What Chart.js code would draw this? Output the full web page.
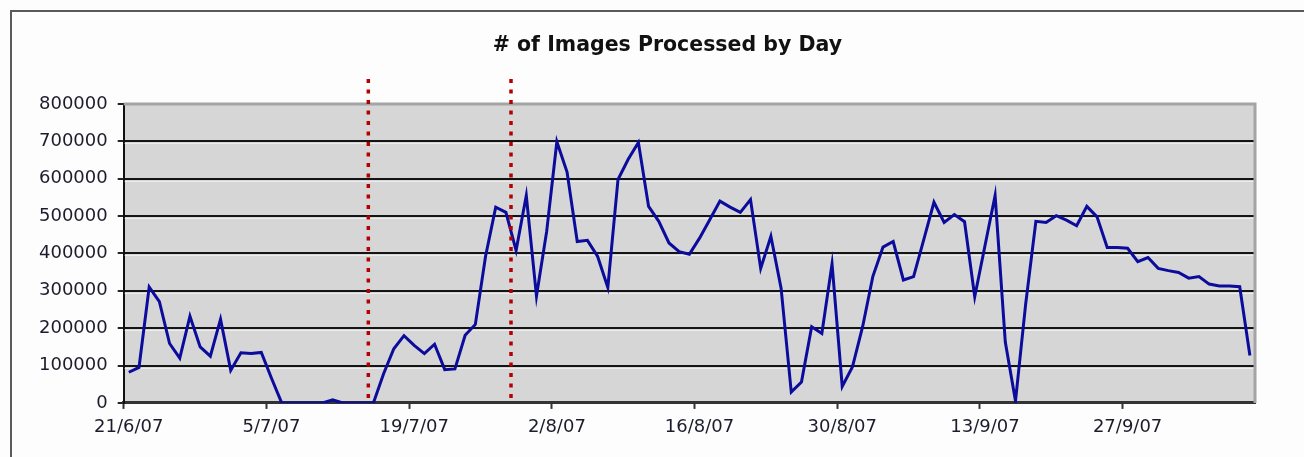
<!DOCTYPE html>
<html>
<head>
<meta charset="utf-8">
<script src="https://cdn.jsdelivr.net/npm/chart.js@4.4.1/dist/chart.umd.min.js"></script>
<style>
    html, body{
        margin:0;
        padding:0;
        background:#fdfdfd;
    }
    #wrap{
        position:relative;
        width:1304px;
        height:457px;
        overflow:hidden;
    }
    #frame{
        position:absolute;
        left:10px;
        top:10px;
        width:1400px;
        height:600px;
        border-left:2px solid #5a5a5a;
        border-top:2px solid #5a5a5a;
        pointer-events:none;
    }
</style>
</head>
<body>

<div id="wrap">
    <canvas id="imagesChart"></canvas>
    <div id="frame"></div>
</div>

<script>

// DAYS (ONE POINT PER DAY)
const dayLabels = [
    "21/6/07","22/6/07","23/6/07","24/6/07","25/6/07","26/6/07","27/6/07","28/6/07","29/6/07","30/6/07",
    "1/7/07","2/7/07","3/7/07","4/7/07","5/7/07","6/7/07","7/7/07","8/7/07","9/7/07","10/7/07",
    "11/7/07","12/7/07","13/7/07","14/7/07","15/7/07","16/7/07","17/7/07","18/7/07","19/7/07","20/7/07",
    "21/7/07","22/7/07","23/7/07","24/7/07","25/7/07","26/7/07","27/7/07","28/7/07","29/7/07","30/7/07",
    "31/7/07","1/8/07","2/8/07","3/8/07","4/8/07","5/8/07","6/8/07","7/8/07","8/8/07","9/8/07",
    "10/8/07","11/8/07","12/8/07","13/8/07","14/8/07","15/8/07","16/8/07","17/8/07","18/8/07","19/8/07",
    "20/8/07","21/8/07","22/8/07","23/8/07","24/8/07","25/8/07","26/8/07","27/8/07","28/8/07","29/8/07",
    "30/8/07","31/8/07","1/9/07","2/9/07","3/9/07","4/9/07","5/9/07","6/9/07","7/9/07","8/9/07",
    "9/9/07","10/9/07","11/9/07","12/9/07","13/9/07","14/9/07","15/9/07","16/9/07","17/9/07","18/9/07",
    "19/9/07","20/9/07","21/9/07","22/9/07","23/9/07","24/9/07","25/9/07","26/9/07","27/9/07","28/9/07",
    "29/9/07","30/9/07","1/10/07","2/10/07","3/10/07","4/10/07","5/10/07","6/10/07","7/10/07","8/10/07",
    "9/10/07"
];

// IMAGES PROCESSED
const imagesProcessed = [
    82000, 95000, 310000, 271000, 159000, 120000, 232000, 150000, 125000, 224000,
    87000, 134000, 132000, 135000, 66000, 0, 0, 0, 0, 0,
    8000, 0, 0, 0, 0, 78000, 145000, 180000, 154000, 132000,
    157000, 89000, 91000, 181000, 210000, 392000, 524000, 510000, 408000, 555000,
    286000, 459000, 699000, 618000, 432000, 435000, 392000, 309000, 598000, 652000,
    697000, 526000, 486000, 428000, 405000, 398000, 441000, 490000, 540000, 524000,
    510000, 544000, 360000, 446000, 307000, 29000, 56000, 204000, 186000, 372000,
    44000, 96000, 204000, 338000, 417000, 432000, 329000, 338000, 437000, 537000,
    483000, 504000, 485000, 284000, 420000, 555000, 163000, 5000, 265000, 486000,
    483000, 501000, 489000, 474000, 526000, 498000, 416000, 416000, 414000, 378000,
    389000, 360000, 354000, 349000, 334000, 338000, 318000, 313000, 313000, 311000,
    127000
];

// DATES THAT GET AN AXIS LABEL
const tickDays = ["21/6/07","5/7/07","19/7/07","2/8/07","16/8/07","30/8/07","13/9/07","27/9/07"];

// RED DOTTED MARKERS (DRAWN AT THE START OF THESE DAYS)
const markerDays = ["15/7/07","29/7/07"];

// Y AXIS
const yMin = 0;
const yMax = 800000;
const yStep = 100000;

const chartTitle = "# of Images Processed by Day";


Chart.defaults.font.family = "'DejaVu Sans', Verdana, sans-serif";
Chart.defaults.color = "#1c1c2c";


// PLOT AREA BACKGROUND + BORDER
const plotAreaPlugin = {

    id:"plotArea",

    beforeDraw(chart){

        const {ctx, chartArea:a} = chart;
        ctx.save();
        ctx.fillStyle = "#d6d6d6";
        ctx.fillRect(a.left, a.top, a.right - a.left, a.bottom - a.top);
        ctx.restore();

    },

    beforeDatasetsDraw(chart){

        const {ctx, chartArea:a, scales} = chart;
        ctx.save();

        // light line under each gridline
        ctx.strokeStyle = "#ececec";
        ctx.lineWidth = 1;
        scales.y.ticks.forEach(t => {
            if(t.value === yMin || t.value === yMax) return;
            const y = Math.round(scales.y.getPixelForValue(t.value)) + 2.5;
            ctx.beginPath();
            ctx.moveTo(a.left + 1, y);
            ctx.lineTo(a.right, y);
            ctx.stroke();
        });

        // gray top + right border
        ctx.strokeStyle = "#a4a4a4";
        ctx.lineWidth = 3;
        ctx.beginPath();
        ctx.moveTo(a.left, a.top);
        ctx.lineTo(a.right, a.top);
        ctx.lineTo(a.right, a.bottom);
        ctx.stroke();

        ctx.restore();

    },

    // title sits a little left of the plot centre, as in the original
    afterDraw(chart){

        const {ctx, chartArea:a} = chart;
        ctx.save();
        ctx.font = "bold 20.5px 'DejaVu Sans', Verdana, sans-serif";
        ctx.fillStyle = "#111";
        ctx.textAlign = "center";
        ctx.textBaseline = "middle";
        ctx.fillText(chartTitle, (a.left + a.right) / 2 - 22, a.top - 58);
        ctx.restore();

    }

};


// RED DOTTED MARKER LINES
const markerPlugin = {

    id:"markers",

    afterDatasetsDraw(chart){

        const {ctx, chartArea:a, scales} = chart;
        ctx.save();
        ctx.strokeStyle = "#b40000";
        ctx.lineWidth = 3.5;
        ctx.setLineDash([4, 6.5]);

        markerDays.forEach(day => {
            const x = scales.x.getPixelForValue(dayLabels.indexOf(day) - 0.5);
            ctx.beginPath();
            ctx.moveTo(x, a.top - 25);
            ctx.lineTo(x, a.bottom - 2);
            ctx.stroke();
        });

        ctx.restore();

    }

};


// CHART
new Chart(

    document.getElementById("imagesChart"),

    {
        type:"line",
        data:{
            labels:dayLabels,
            datasets:[{
                label:"Images Processed",
                data:imagesProcessed,
                borderColor:"#0c0c9c",
                borderWidth:3,
                pointRadius:0,
                tension:0,
                fill:false
            }]
        },
        options:{
            responsive:true,
            maintainAspectRatio:false,
            animation:false,
            layout:{
                padding:{left:29, right:49, top:104, bottom:10.5}
            },
            plugins:{
                legend:{display:false},
                tooltip:{enabled:false},
                title:{display:false}
            },
            scales:{
                x:{
                    offset:true,
                    grid:{
                        offset:true,
                        drawOnChartArea:false,
                        drawTicks:true,
                        tickLength:6,
                        tickWidth:2,
                        tickColor:ctx => tickDays.includes(dayLabels[ctx.index]) ? "#333" : "rgba(0,0,0,0)"
                    },
                    border:{display:true, color:"#333", width:3},
                    ticks:{
                        autoSkip:false,
                        minRotation:0,
                        maxRotation:0,
                        padding:8,
                        font:{size:18},
                        callback:(v, i) => tickDays.includes(dayLabels[i]) ? dayLabels[i] : ""
                    }
                },
                y:{
                    min:yMin,
                    max:yMax,
                    grid:{
                        color:ctx => ctx.tick && ctx.tick.value === yMax ? "rgba(0,0,0,0)" : "#141414",
                        lineWidth:2,
                        drawTicks:true,
                        tickLength:6,
                        tickColor:"#222"
                    },
                    border:{display:true, color:"#111", width:2},
                    ticks:{
                        stepSize:yStep,
                        padding:10,
                        font:{size:18},
                        callback:v => String(v)
                    }
                }
            }
        },
        plugins:[plotAreaPlugin, markerPlugin]
    }

);

</script>
</body>
</html>
